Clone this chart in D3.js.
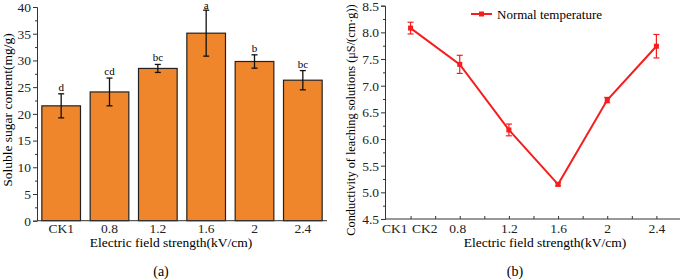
<!DOCTYPE html>
<html>
<head>
<meta charset="utf-8">
<script src="https://cdn.jsdelivr.net/npm/d3@7"></script>
<style>
  body { margin: 0; background: #fff; }
  svg text { font-family: "Liberation Serif", "Times New Roman", serif; }
</style>
</head>
<body>
<svg id="chart" width="685" height="280"></svg>
<script>
// panel (a): soluble sugar
const sugarCats = ['CK1', '0.8', '1.2', '1.6', '2', '2.4'];
const sugarVals = [21.5, 24.1, 28.5, 35.1, 29.8, 26.3];
const sugarErr = [2.25, 2.6, 0.75, 4.3, 1.25, 1.8];
const sugarLetters = ['d', 'cd', 'bc', 'a', 'b', 'bc'];
const sugarTicks = [0, 5, 10, 15, 20, 25, 30, 35, 40];

// panel (b): conductivity
const condIdx = [0, 1, 2, 3, 4, 5];
const condVals = [8.08, 7.40, 6.17, 5.15, 6.73, 7.74];
const condErr = [0.11, 0.17, 0.11, 0.03, 0.05, 0.22];
const condTickLabels = ['CK1', 'CK2', '0.8', '1.2', '1.6', '2', '2.4'];
const condTickPos = [-0.33, 0.28, 0.95, 2, 3, 4, 5];
const condYTicks = [4.5, 5.0, 5.5, 6.0, 6.5, 7.0, 7.5, 8.0, 8.5];

const svg = d3.select('#chart');
const ORANGE = '#ef862c';
const RED = '#f51d1d';

// ---------- (a) ----------
const xa = d3.scaleBand().domain(sugarCats).range([37, 327]).paddingInner(0.2).paddingOuter(0.1);
const ya = d3.scaleLinear().domain([0, 40]).range([220.7, 7]);

const ga = svg.append('g');

ga.selectAll('rect.bar')
  .data(sugarVals)
  .join('rect')
  .attr('class', 'bar')
  .attr('x', (d, i) => xa(sugarCats[i]))
  .attr('y', d => ya(d))
  .attr('width', xa.bandwidth())
  .attr('height', d => ya(0) - ya(d))
  .attr('fill', ORANGE)
  .attr('stroke', '#222')
  .attr('stroke-width', 1.2);

const errA = ga.selectAll('g.err')
  .data(sugarVals)
  .join('g')
  .attr('class', 'err')
  .attr('stroke', '#111')
  .attr('stroke-width', 1.3);
errA.append('line')
  .attr('x1', (d, i) => xa(sugarCats[i]) + xa.bandwidth() / 2)
  .attr('x2', (d, i) => xa(sugarCats[i]) + xa.bandwidth() / 2)
  .attr('y1', (d, i) => ya(d + sugarErr[i]))
  .attr('y2', (d, i) => ya(d - sugarErr[i]));
[1, -1].forEach(s => {
  errA.append('line')
    .attr('x1', (d, i) => xa(sugarCats[i]) + xa.bandwidth() / 2 - 3)
    .attr('x2', (d, i) => xa(sugarCats[i]) + xa.bandwidth() / 2 + 3)
    .attr('y1', (d, i) => ya(d + s * sugarErr[i]))
    .attr('y2', (d, i) => ya(d + s * sugarErr[i]));
});

ga.selectAll('text.letter')
  .data(sugarVals)
  .join('text')
  .attr('class', 'letter')
  .attr('x', (d, i) => xa(sugarCats[i]) + xa.bandwidth() / 2)
  .attr('y', (d, i) => Math.max(ya(d + sugarErr[i]) - 3, 9))
  .attr('text-anchor', 'middle')
  .style('font-size', '11px')
  .text((d, i) => sugarLetters[i]);

// axes (a)
ga.append('g').attr('transform', 'translate(37,0)')
  .call(d3.axisLeft(ya).tickValues(sugarTicks).tickSize(4).tickPadding(2));
ga.append('g').attr('transform', 'translate(37,0)')
  .call(d3.axisLeft(ya).tickValues(d3.range(2.5, 40, 5)).tickSize(2).tickFormat(''))
  .select('.domain').remove();
const axXa = ga.append('g').attr('transform', `translate(0,${ya(0)})`)
  .call(d3.axisBottom(xa).tickSize(0).tickPadding(3));
axXa.select('.domain').attr('d', `M37,0H327`);

// ---------- (b) ----------
const xb = d3.scaleLinear().domain([-0.52, 5.48]).range([385, 680]);
const yb = d3.scaleLinear().domain([4.5, 8.5]).range([219, 5.7]);

const gb = svg.append('g');

gb.append('g').attr('transform', 'translate(385,0)')
  .call(d3.axisLeft(yb).tickValues(condYTicks).tickSize(4).tickPadding(2).tickFormat(d3.format('.1f')));
gb.append('g').attr('transform', 'translate(385,0)')
  .call(d3.axisLeft(yb).tickValues(d3.range(4.75, 8.5, 0.5)).tickSize(2).tickFormat(''))
  .select('.domain').remove();

const axXb = gb.append('g').attr('transform', `translate(0,${yb(4.5)})`)
  .call(d3.axisBottom(xb).tickValues(d3.range(0, 5.01, 0.5)).tickSize(-3).tickFormat(''));
axXb.select('.domain').attr('d', 'M385,0H680');
gb.append('g').attr('transform', `translate(0,${yb(4.5)})`)
  .call(d3.axisBottom(xb).tickValues(condTickPos).tickSize(0).tickPadding(4)
    .tickFormat((d, i) => condTickLabels[i]))
  .select('.domain').remove();

const line = d3.line().x((d, i) => xb(condIdx[i])).y(d => yb(d));
gb.append('path')
  .datum(condVals)
  .attr('d', line)
  .attr('fill', 'none')
  .attr('stroke', RED)
  .attr('stroke-width', 2);

const errB = gb.selectAll('g.err')
  .data(condVals)
  .join('g')
  .attr('class', 'err')
  .attr('stroke', RED)
  .attr('stroke-width', 1.2);
errB.append('line')
  .attr('x1', (d, i) => xb(condIdx[i]))
  .attr('x2', (d, i) => xb(condIdx[i]))
  .attr('y1', (d, i) => yb(d + condErr[i]))
  .attr('y2', (d, i) => yb(d - condErr[i]));
[1, -1].forEach(s => {
  errB.append('line')
    .attr('x1', (d, i) => xb(condIdx[i]) - 3)
    .attr('x2', (d, i) => xb(condIdx[i]) + 3)
    .attr('y1', (d, i) => yb(d + s * condErr[i]))
    .attr('y2', (d, i) => yb(d + s * condErr[i]));
});

gb.selectAll('rect.mark')
  .data(condVals)
  .join('rect')
  .attr('class', 'mark')
  .attr('x', (d, i) => xb(condIdx[i]) - 2.5)
  .attr('y', d => yb(d) - 2.5)
  .attr('width', 5)
  .attr('height', 5)
  .attr('fill', RED);

// legend
gb.append('line').attr('x1', 471).attr('x2', 492).attr('y1', 14).attr('y2', 14)
  .attr('stroke', RED).attr('stroke-width', 2);
gb.append('rect').attr('x', 479).attr('y', 11.5).attr('width', 5).attr('height', 5).attr('fill', RED);
gb.append('text').attr('x', 497).attr('y', 18.5).style('font-size', '13px').text('Normal temperature');

// shared axis styling
svg.selectAll('.tick text').style('font-size', '13.5px').attr('fill', '#222');
svg.selectAll('.domain, .tick line').attr('stroke', '#333');

// titles
svg.append('text').attr('transform', 'translate(12,110) rotate(-90)')
  .attr('text-anchor', 'middle').style('font-size', '13.5px').text('Soluble sugar content(mg/g)');
svg.append('text').attr('x', 171).attr('y', 247)
  .attr('text-anchor', 'middle').style('font-size', '13.5px').text('Electric field strength(kV/cm)');
svg.append('text').attr('x', 161).attr('y', 276)
  .attr('text-anchor', 'middle').style('font-size', '14px').text('(a)');

svg.append('text').attr('transform', 'translate(355,120) rotate(-90)')
  .attr('text-anchor', 'middle').style('font-size', '12.3px').text('Conductivity of leaching solutions (μS/(cm·g))');
svg.append('text').attr('x', 545).attr('y', 247)
  .attr('text-anchor', 'middle').style('font-size', '13.5px').text('Electric field strength(kV/cm)');
svg.append('text').attr('x', 515).attr('y', 276)
  .attr('text-anchor', 'middle').style('font-size', '14px').text('(b)');
</script>
</body>
</html>
